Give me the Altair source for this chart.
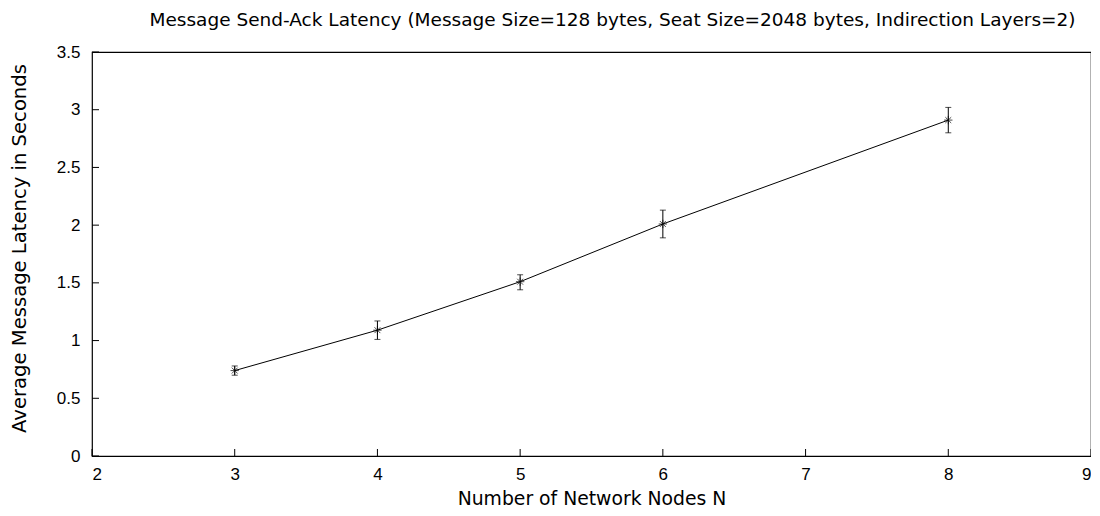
import altair as alt
import pandas as pd

nodes = [3, 4, 5, 6, 8]
latency = [0.74, 1.09, 1.51, 2.01, 2.91]
err_low = [0.70, 1.01, 1.44, 1.89, 2.80]
err_high = [0.78, 1.17, 1.57, 2.13, 3.02]

x_ticks = [2, 3, 4, 5, 6, 7, 8, 9]
y_ticks = [0, 0.5, 1, 1.5, 2, 2.5, 3, 3.5]

W, H = 999, 404
FONT = "Arial"
TFONT = "DejaVu Sans"

df = pd.DataFrame({"n": nodes, "lat": latency, "lo": err_low, "hi": err_high})
xt = pd.DataFrame({"v": x_ticks})
yt = pd.DataFrame({"v": y_ticks})

xs = alt.Scale(domain=[2, 9], nice=False, zero=False)
ys = alt.Scale(domain=[0, 3.5], nice=False, zero=False)

xaxis = alt.Axis(values=x_ticks, title="Number of Network Nodes N", grid=False,
                 ticks=False, domain=False, labelPadding=10, labelFontSize=17,
                 titleFontSize=18.8, titleFontWeight="normal", titlePadding=7,
                 labelFont=FONT, titleFont=TFONT, labelColor="black", titleColor="black",
                 format="~g")
yaxis = alt.Axis(values=y_ticks, title="Average Message Latency in Seconds", grid=False,
                 ticks=False, domain=False, labelPadding=12, labelFontSize=17,
                 titleFontSize=19.6, titleFontWeight="normal",
                 titleX=-63, titleY=196, titleBaseline="bottom", titleAlign="center",
                 titleAngle=270,
                 labelFont=FONT, titleFont=TFONT, labelColor="black", titleColor="black",
                 format="~g")

base = alt.Chart(df)

line = base.mark_line(color="black", strokeWidth=1).encode(
    x=alt.X("n:Q", scale=xs, axis=xaxis),
    y=alt.Y("lat:Q", scale=ys, axis=yaxis),
)

star = "M-1,0L1,0M0,-1L0,1M-0.7,-0.7L0.7,0.7M-0.7,0.7L0.7,-0.7"
pts = base.mark_point(shape=star, size=70, filled=False, color="black", strokeWidth=1).encode(
    x=alt.X("n:Q", scale=xs), y=alt.Y("lat:Q", scale=ys))

err = base.mark_rule(color="black", strokeWidth=1).encode(
    x=alt.X("n:Q", scale=xs), y=alt.Y("lo:Q", scale=ys), y2="hi:Q")
cap_lo = base.mark_tick(orient="horizontal", size=6, thickness=1, color="black").encode(
    x=alt.X("n:Q", scale=xs), y=alt.Y("lo:Q", scale=ys))
cap_hi = base.mark_tick(orient="horizontal", size=6, thickness=1, color="black").encode(
    x=alt.X("n:Q", scale=xs), y=alt.Y("hi:Q", scale=ys))

xtick = alt.Chart(xt).mark_rule(color="black", strokeWidth=1).encode(
    x=alt.X("v:Q", scale=xs), y=alt.value(H), y2=alt.value(H - 7))
ytick = alt.Chart(yt).mark_rule(color="black", strokeWidth=1).encode(
    y=alt.Y("v:Q", scale=ys), x=alt.value(0), x2=alt.value(7))

chart = alt.layer(line, err, cap_lo, cap_hi, pts, xtick, ytick).properties(
    width=W, height=H,
    title=alt.TitleParams(
        "Message Send-Ack Latency (Message Size=128 bytes, Seat Size=2048 bytes, Indirection Layers=2)",
        fontSize=18.5, fontWeight="normal", font=TFONT, color="black", offset=14, dx=21),
    autosize=alt.AutoSizeParams(type="none"),
    padding={"left": 84, "top": 44, "right": 0, "bottom": 52},
).configure_view(stroke="black", strokeWidth=1.2)

chart.save("out.html", embed_options={"renderer": "svg", "actions": False})
